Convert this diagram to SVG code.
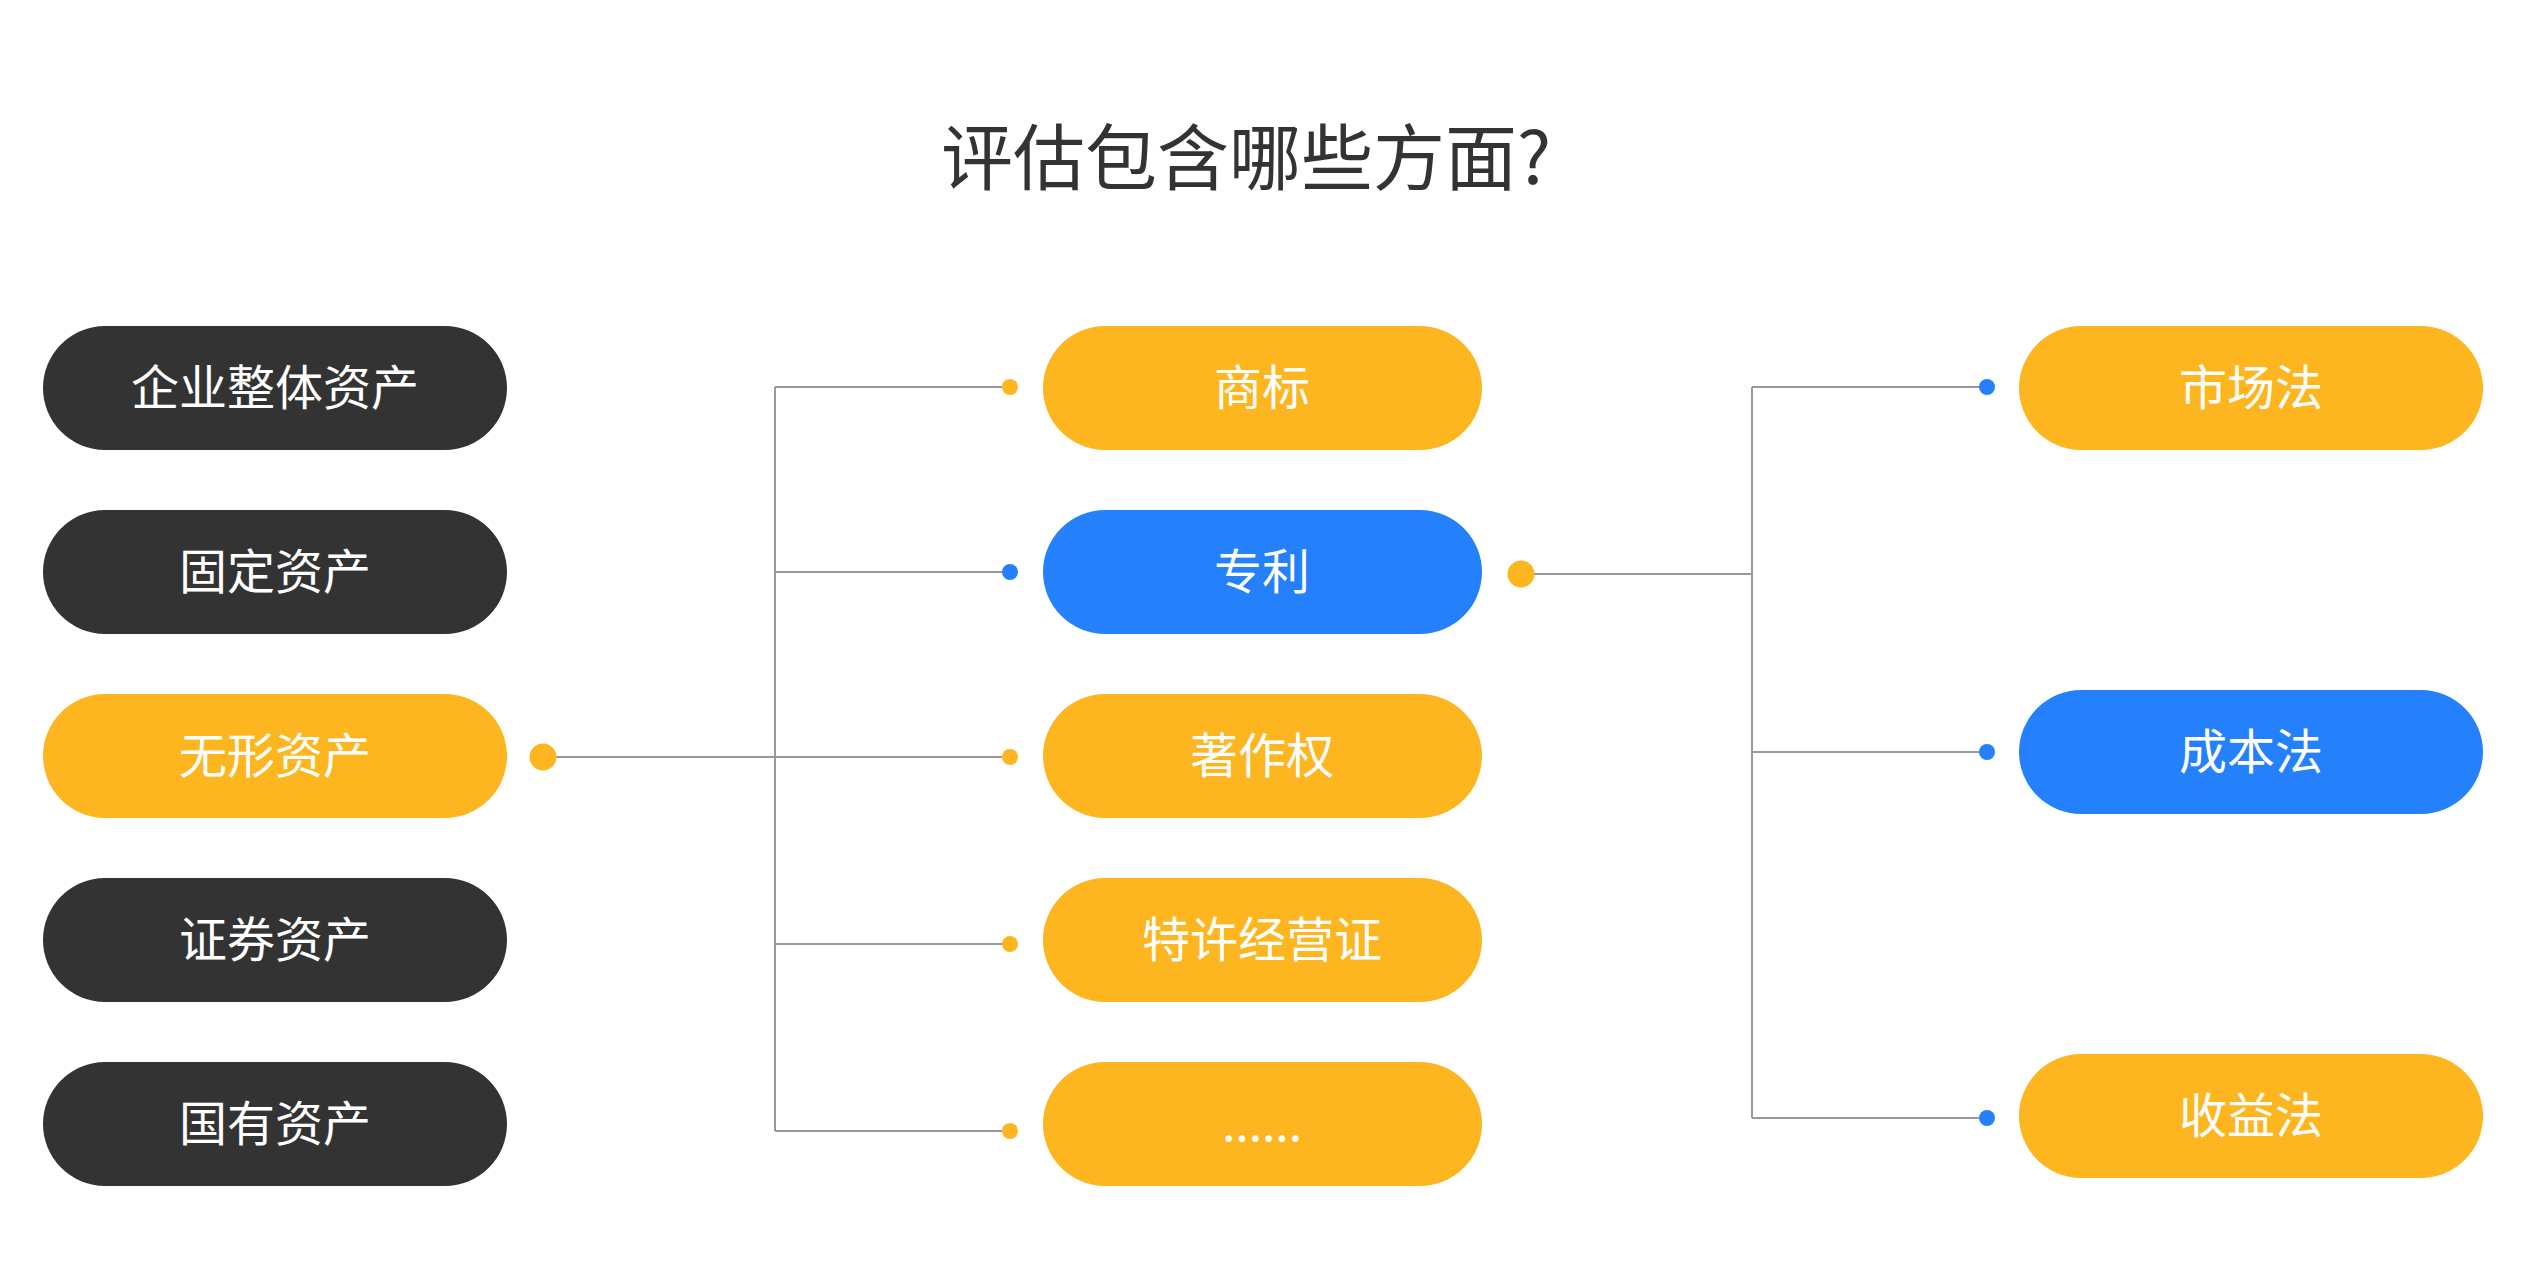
<svg xmlns="http://www.w3.org/2000/svg" width="2528" height="1272" viewBox="0 0 2528 1272">
<style>
.t{font-family:"Noto Sans CJK SC","Noto Sans",sans-serif;font-size:48px;fill:#fff;text-anchor:middle;dominant-baseline:central}
.dark{fill:#333333}.yel{fill:#FDB620}.blu{fill:#2481FB}
.ln{stroke:#999;stroke-width:2;fill:none}
.title{font-family:"Noto Sans CJK SC","Noto Sans",sans-serif;font-size:72px;fill:#333;text-anchor:middle;dominant-baseline:central}
</style>
<rect width="2528" height="1272" fill="#fff"/>
<text class="title" x="1246" y="152">评估包含哪些方面?</text>
<g id="connectors">
<path class="ln" d="M543 757H775M775 387V1131M775 387H1008M775 572H1008M775 757H1008M775 944H1008M775 1131H1008"/>
<path class="ln" d="M1521 574H1752M1752 387V1118M1752 387H1986M1752 752H1986M1752 1118H1986"/>
<circle cx="543" cy="757" r="13.5" class="yel"/>
<circle cx="1521" cy="574" r="13.5" class="yel"/>
<circle cx="1010" cy="387" r="8" class="yel"/>
<circle cx="1010" cy="572" r="8" class="blu"/>
<circle cx="1010" cy="757" r="8" class="yel"/>
<circle cx="1010" cy="944" r="8" class="yel"/>
<circle cx="1010" cy="1131" r="8" class="yel"/>
<circle cx="1987" cy="387" r="8" class="blu"/>
<circle cx="1987" cy="752" r="8" class="blu"/>
<circle cx="1987" cy="1118" r="8" class="blu"/>
</g>
<g id="n1"><rect x="43" y="326" width="464" height="124" rx="62" class="dark"/><text class="t" x="275" y="384">企业整体资产</text></g>
<g id="n2"><rect x="43" y="510" width="464" height="124" rx="62" class="dark"/><text class="t" x="275" y="568">固定资产</text></g>
<g id="n3"><rect x="43" y="694" width="464" height="124" rx="62" class="yel"/><text class="t" x="275" y="752">无形资产</text></g>
<g id="n4"><rect x="43" y="878" width="464" height="124" rx="62" class="dark"/><text class="t" x="275" y="936">证券资产</text></g>
<g id="n5"><rect x="43" y="1062" width="464" height="124" rx="62" class="dark"/><text class="t" x="275" y="1120">国有资产</text></g>
<g id="m1"><rect x="1043" y="326" width="439" height="124" rx="62" class="yel"/><text class="t" x="1262" y="384">商标</text></g>
<g id="m2"><rect x="1043" y="510" width="439" height="124" rx="62" class="blu"/><text class="t" x="1262" y="568">专利</text></g>
<g id="m3"><rect x="1043" y="694" width="439" height="124" rx="62" class="yel"/><text class="t" x="1262" y="752">著作权</text></g>
<g id="m4"><rect x="1043" y="878" width="439" height="124" rx="62" class="yel"/><text class="t" x="1262" y="936">特许经营证</text></g>
<g id="m5"><rect x="1043" y="1062" width="439" height="124" rx="62" class="yel"/><text class="t" x="1262" y="1120">......</text></g>
<g id="r1"><rect x="2019" y="326" width="464" height="124" rx="62" class="yel"/><text class="t" x="2251" y="384">市场法</text></g>
<g id="r2"><rect x="2019" y="690" width="464" height="124" rx="62" class="blu"/><text class="t" x="2251" y="748">成本法</text></g>
<g id="r3"><rect x="2019" y="1054" width="464" height="124" rx="62" class="yel"/><text class="t" x="2251" y="1112">收益法</text></g>
</svg>
